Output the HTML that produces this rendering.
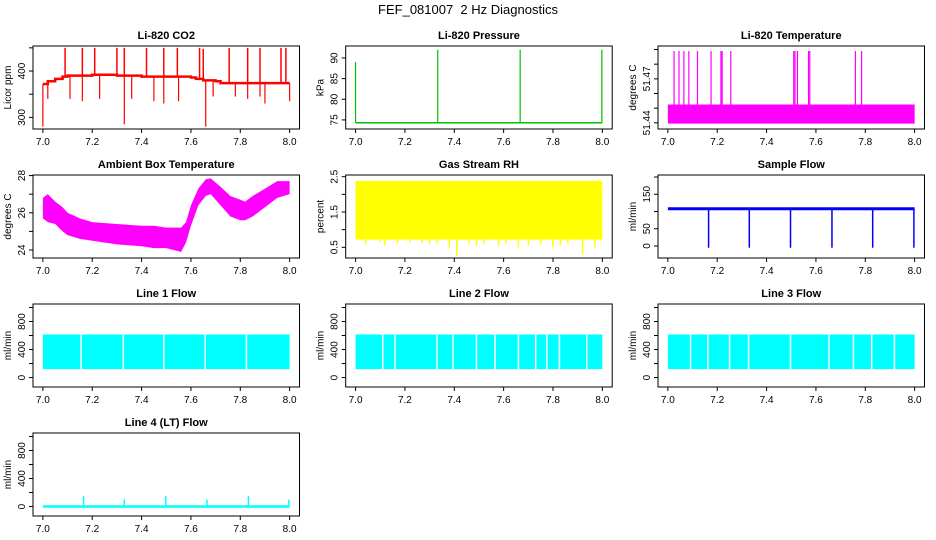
<!DOCTYPE html>
<html><head><meta charset="utf-8"><style>
html,body{margin:0;padding:0;background:#fff;}
svg{display:block;font-family:"Liberation Sans",sans-serif;}
</style></head><body>
<svg id="chart" width="936" height="540" viewBox="0 0 936 540" xmlns="http://www.w3.org/2000/svg">
<text x="468" y="14" text-anchor="middle" font-size="13" xml:space="preserve">FEF_081007  2 Hz Diagnostics</text>
</svg>
<script>
// ---- data arrays ----
const xTicks = [7.0, 7.2, 7.4, 7.6, 7.8, 8.0];
const xTickLabels = ["7.0","7.2","7.4","7.6","7.8","8.0"];
// CO2
const co2BaseX = [7.0,7.02,7.05,7.08,7.1,7.2,7.3,7.4,7.5,7.6,7.62,7.65,7.7,7.72,7.8,7.9,8.0];
const co2BaseY = [372,378,383,388,390,392,390,388,388,386,383,380,378,374,374,374,374];
const co2UpX = [7.09,7.16,7.21,7.30,7.33,7.42,7.49,7.545,7.635,7.65,7.755,7.83,7.88,7.965,7.985];
const co2UpY = [450,450,450,450,450,450,450,450,450,448,450,450,450,450,450];
const co2DnX = [7.0,7.02,7.11,7.16,7.23,7.33,7.36,7.45,7.49,7.55,7.66,7.69,7.78,7.83,7.88,7.9,8.0];
const co2DnY = [280,340,340,335,340,285,340,335,330,335,280,345,345,340,345,330,335];
// Pressure
const presBase = 74.3;
const presSpikeX = [7.0,7.333,7.667,7.998];
const presSpikeY = [89,92,92,92];
// Li-820 temperature
const ltBandLo = 51.4395, ltBandHi = 51.4525;
const ltSpikeX = [7.025,7.045,7.065,7.085,7.12,7.175,7.215,7.22,7.255,7.51,7.515,7.525,7.57,7.575,7.76,7.785];
const ltSpikeTop = 51.489;
// Ambient box temperature
const ambX = [7.0,7.02,7.05,7.08,7.1,7.15,7.2,7.3,7.4,7.45,7.5,7.56,7.58,7.6,7.63,7.66,7.68,7.72,7.76,7.8,7.82,7.85,7.9,7.95,8.0];
const ambHi = [26.8,27.0,26.6,26.3,26.0,25.7,25.5,25.4,25.3,25.3,25.2,25.2,25.5,26.4,27.3,27.8,27.85,27.4,26.9,26.7,26.6,26.9,27.3,27.7,27.7];
const ambLo = [25.7,25.5,25.4,25.0,24.8,24.6,24.5,24.3,24.2,24.1,24.1,23.9,24.4,25.3,26.4,26.9,27.0,26.4,25.8,25.6,25.6,25.8,26.3,26.8,27.0];
// Gas stream RH
const rhHi = 2.38, rhLo = 0.72;
const rhDipX = [7.01,7.04,7.07,7.1,7.12,7.17,7.22,7.27,7.3,7.33,7.38,7.41,7.46,7.49,7.52,7.58,7.61,7.66,7.7,7.75,7.8,7.83,7.86,7.92,7.97];
const rhDipY = [0.75,0.6,0.7,0.65,0.55,0.62,0.65,0.62,0.6,0.62,0.5,0.25,0.6,0.55,0.6,0.55,0.6,0.5,0.55,0.6,0.5,0.55,0.6,0.3,0.5];
// Sample flow
const sfBase = 108;
const sfDropX = [7.165,7.33,7.497,7.665,7.83,7.997];
const sfDropY = [-5,-5,-5,-5,-5,-5];
// Line flows
const lfHi = 615, lfLo = 120;
const l1Gaps = [7.155,7.326,7.49,7.658,7.825];
const l2Gaps = [7.11,7.16,7.33,7.395,7.49,7.565,7.66,7.73,7.775,7.826,7.937];
const l3Gaps = [7.092,7.162,7.25,7.327,7.497,7.653,7.752,7.826,7.918];
const l4SpikeX = [7.165,7.33,7.498,7.665,7.833,7.997];
const l4SpikeY = [150,100,150,100,150,100];

const NS = "http://www.w3.org/2000/svg";
const svg = document.getElementById('chart');
const colL = [33, 345.7, 658], rowT = [46, 175, 304, 433], W = 266.5, H = 83;

function mk(tag, attrs, parent){
  const e = document.createElementNS(NS, tag);
  for (const k in attrs) e.setAttribute(k, attrs[k]);
  (parent||svg).appendChild(e);
  return e;
}
function panel(c, r, title, ylab, ymin, ymax, yTicks, yLabels, name){
  const L = colL[c], T = rowT[r];
  const g = mk('g', {});
  
  
  const sx = v => L + (v - 6.96) / 1.08 * W;
  const sy = v => T + H - (v - ymin) / (ymax - ymin) * H;
  const plot = mk('g', {}, g);
  
  
  const box = mk('rect', {x:L, y:T, width:W, height:H, fill:'none', stroke:'#000', 'stroke-width':1}, g);
  
  
  const t = mk('text', {x:L+W/2, y:T-7, 'text-anchor':'middle', 'font-size':11, 'font-weight':'bold'}, g);
  t.textContent = title;
  
  
  xTicks.forEach((v,i) => {
    mk('line', {x1:sx(v), x2:sx(v), y1:T+H, y2:T+H+4, stroke:'#000'}, g);
    const tl = mk('text', {x:sx(v), y:T+H+16, 'text-anchor':'middle', 'font-size':10}, g);
    tl.textContent = xTickLabels[i];
    
    
  });
  yTicks.forEach((v,i) => {
    mk('line', {x1:L-4, x2:L, y1:sy(v), y2:sy(v), stroke:'#000'}, g);
    if (yLabels[i]) {
      const yl = mk('text', {x:L-8, y:sy(v), 'text-anchor':'middle', 'font-size':10, transform:`rotate(-90 ${L-8} ${sy(v)})`}, g);
      yl.textContent = yLabels[i];
      
      
    }
  });
  const ya = mk('text', {x:L-22, y:T+H/2, 'text-anchor':'middle', 'font-size':10, transform:`rotate(-90 ${L-22} ${T+H/2})`}, g);
  ya.textContent = ylab;
  
  
  return {sx, sy, g:plot};
}
function vline(p, x, y1, y2, col, w){ mk('line', {x1:p.sx(x), x2:p.sx(x), y1:p.sy(y1), y2:p.sy(y2), stroke:col, 'stroke-width':w}, p.g); }

// CO2
let p = panel(0,0,'Li-820 CO2','Licor ppm',275,454,[300,350,400,450],['300','','400',''],'co2');
let pts = [];
co2BaseX.forEach((x,i)=>{ pts.push(p.sx(x)+','+p.sy(co2BaseY[i])); if(i<co2BaseX.length-1) pts.push(p.sx(co2BaseX[i+1])+','+p.sy(co2BaseY[i])); });
mk('polyline',{points:pts.join(' '),fill:'none',stroke:'#f00','stroke-width':2.5},p.g);
function interp(xs, ys, x){ for(let i=xs.length-1;i>=0;i--) if(x>=xs[i]) return ys[i]; return ys[0]; }
co2UpX.forEach((x,i)=>vline(p,x,interp(co2BaseX,co2BaseY,x),co2UpY[i],'#f00',1.5));
co2DnX.forEach((x,i)=>vline(p,x,interp(co2BaseX,co2BaseY,x),co2DnY[i],'#f00',1.2));

// Pressure
p = panel(1,0,'Li-820 Pressure','kPa',72.8,92.9,[75,80,85,90],['75','80','85','90'],'pressure');
mk('line',{x1:p.sx(7),x2:p.sx(8),y1:p.sy(presBase),y2:p.sy(presBase),stroke:'#00c000','stroke-width':1.5},p.g);
presSpikeX.forEach((x,i)=>vline(p,x,presBase,presSpikeY[i],'#00c000',1.2));

// Li-820 Temperature
p = panel(2,0,'Li-820 Temperature','degrees C',51.4358,51.4924,[51.44,51.45,51.46,51.47,51.48,51.49],['51.44','','','51.47','',''],'li820-temp');
mk('rect',{x:p.sx(7),y:p.sy(ltBandHi),width:p.sx(8)-p.sx(7),height:p.sy(ltBandLo)-p.sy(ltBandHi),fill:'#f0f'},p.g);
ltSpikeX.forEach(x=>vline(p,x,ltBandHi,ltSpikeTop,'#f0f',1.2));

// Ambient
p = panel(0,1,'Ambient Box Temperature','degrees C',23.57,28.03,[24,25,26,27,28],['24','','26','','28'],'ambient-temp');
let poly = ambX.map((x,i)=>p.sx(x)+','+p.sy(ambHi[i])).concat(ambX.slice().reverse().map((x,i)=>p.sx(x)+','+p.sy(ambLo[ambX.length-1-i])));
mk('polygon',{points:poly.join(' '),fill:'#f0f'},p.g);

// RH
p = panel(1,1,'Gas Stream RH','percent',0.197,2.548,[0.5,1,1.5,2,2.5],['0.5','','1.5','','2.5'],'gas-rh');
mk('rect',{x:p.sx(7),y:p.sy(rhHi),width:p.sx(8)-p.sx(7),height:p.sy(rhLo)-p.sy(rhHi),fill:'#ff0'},p.g);
rhDipX.forEach((x,i)=>vline(p,x,rhLo,rhDipY[i],'#ff0',1.5));

// Sample flow
p = panel(2,1,'Sample Flow','ml/min',-34.8,205.8,[0,50,100,150,200],['0','50','','150',''],'sample-flow');
mk('line',{x1:p.sx(7),x2:p.sx(8),y1:p.sy(sfBase),y2:p.sy(sfBase),stroke:'#00f','stroke-width':3},p.g);
sfDropX.forEach((x,i)=>vline(p,x,sfBase,sfDropY[i],'#00f',1.5));

// Line flows
function lineFlow(c,r,title,gaps,name){
  const q = panel(c,r,title,'ml/min',-135,1050,[0,200,400,600,800,1000],['0','','400','','800',''],name);
  mk('rect',{x:q.sx(7),y:q.sy(lfHi),width:q.sx(8)-q.sx(7),height:q.sy(lfLo)-q.sy(lfHi),fill:'#0ff'},q.g);
  gaps.forEach(x=>vline(q,x,lfLo-5,lfHi+5,'#fff',1.5));
  return q;
}
lineFlow(0,2,'Line 1 Flow',l1Gaps,'line1-flow');
lineFlow(1,2,'Line 2 Flow',l2Gaps,'line2-flow');
lineFlow(2,2,'Line 3 Flow',l3Gaps,'line3-flow');
p = panel(0,3,'Line 4 (LT) Flow','ml/min',-135,1050,[0,200,400,600,800,1000],['0','','400','','800',''],'line4-flow');
mk('line',{x1:p.sx(7),x2:p.sx(8),y1:p.sy(0),y2:p.sy(0),stroke:'#0ff','stroke-width':2.5},p.g);
l4SpikeX.forEach((x,i)=>vline(p,x,0,l4SpikeY[i],'#0ff',1.5));
</script>
</body></html>
